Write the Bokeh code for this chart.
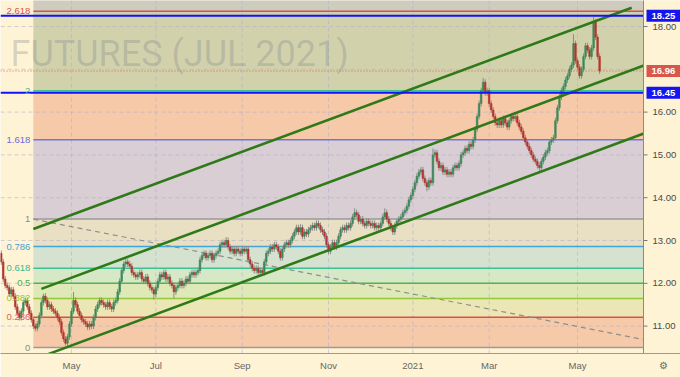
import numpy as np
import pandas as pd
from bokeh.plotting import figure
from bokeh.models import Range1d, FixedTicker
from bokeh.core.properties import value
from bokeh.embed import file_html
from bokeh.resources import INLINE

# ---------------- data ----------------
start_date = "2020-03-12"
exchange_holidays = ["2020-04-10", "2020-05-25", "2020-07-03", "2020-09-07", "2020-11-26",
                     "2020-12-25", "2021-01-01", "2021-01-18", "2021-02-15", "2021-04-02",
                     "2021-05-31", "2021-07-05"]

first_open = 12.70
closes = [
    12.50, 12.10, 11.95, 11.90, 11.75, 11.85, 11.70, 11.45, 11.30, 11.20,
    11.35, 11.55, 11.60, 11.45, 11.30, 11.15, 11.00, 10.95, 11.05, 11.25,
    11.55, 11.70, 11.60, 11.45, 11.50, 11.40, 11.35, 11.30, 11.20, 11.10,
    10.85, 10.70, 10.60, 10.75, 11.05, 11.35, 11.60, 11.50, 11.35, 11.25,
    11.15, 11.10, 11.05, 10.98, 11.05, 11.00, 11.20, 11.40, 11.50, 11.60,
    11.55, 11.50, 11.45, 11.55, 11.45, 11.40, 11.55, 11.60, 11.80, 12.05,
    12.30, 12.45, 12.50, 12.45, 12.40, 12.25, 12.20, 12.15, 12.20, 12.25,
    12.10, 12.05, 12.15, 12.00, 11.90, 11.85, 11.75, 11.90, 12.05, 12.20,
    12.15, 12.25, 12.10, 12.15, 12.00, 11.95, 11.80, 11.90, 11.95, 12.05,
    11.95, 12.00, 12.10, 12.05, 12.20, 12.25, 12.20, 12.25, 12.30, 12.55,
    12.65, 12.70, 12.60, 12.65, 12.70, 12.55, 12.65, 12.70, 12.75, 12.90,
    12.95, 12.90, 13.00, 12.85, 12.75, 12.80, 12.70, 12.80, 12.75, 12.70,
    12.80, 12.75, 12.80, 12.55, 12.45, 12.35, 12.30, 12.35, 12.25, 12.30,
    12.25, 12.50, 12.70, 12.75, 12.85, 12.80, 12.90, 12.85, 12.75, 12.60,
    12.80, 12.90, 12.95, 12.90, 13.00, 13.10, 13.20, 13.30, 13.20, 13.30,
    13.10, 13.20, 13.15, 13.25, 13.30, 13.35, 13.30, 13.40, 13.35, 13.25,
    13.20, 13.10, 12.90, 12.75, 12.85, 12.95, 12.85, 12.95, 13.10, 13.25,
    13.30, 13.25, 13.35, 13.30, 13.40, 13.55, 13.65, 13.60, 13.45, 13.50,
    13.40, 13.35, 13.45, 13.40, 13.35, 13.40, 13.30, 13.35, 13.30, 13.40,
    13.55, 13.65, 13.50, 13.40, 13.30, 13.20, 13.35, 13.45, 13.50, 13.55,
    13.65, 13.70, 13.80, 13.95, 14.05, 14.20, 14.35, 14.50, 14.60, 14.65,
    14.45, 14.35, 14.25, 14.40, 14.35, 15.00, 15.05, 14.85, 14.70, 14.75,
    14.60, 14.65, 14.55, 14.60, 14.55, 14.70, 14.75, 14.70, 14.80, 15.00,
    15.05, 15.15, 15.10, 15.25, 15.20, 15.35, 15.60, 15.90, 16.20, 16.50,
    16.70, 16.45, 16.50, 16.20, 16.05, 15.90, 15.75, 15.70, 15.80, 15.70,
    15.85, 15.75, 15.65, 15.80, 15.90, 15.85, 15.90, 15.75, 15.65, 15.55,
    15.40, 15.30, 15.20, 15.10, 15.00, 14.90, 14.85, 14.75, 14.70, 14.85,
    14.95, 15.05, 15.10, 15.30, 15.35, 15.40, 15.80, 16.10, 16.35, 16.50,
    16.60, 16.75, 16.85, 17.00, 17.10, 17.60, 17.20, 17.05, 16.85, 17.00,
    17.30, 17.55, 17.45, 17.30, 17.50, 18.10, 17.75, 17.30, 16.96,
]
wick = 0.07
extreme_bars = [21, 32, 36, 62, 76, 86, 112, 149, 163, 176, 191, 209, 212, 215, 240, 268, 285, 295]
extreme_highs = [11.76, None, 11.80, 12.60, None, None, 13.08, 13.38, None, 13.75, 13.75, 14.72, None, 15.15, 16.80, None, 17.82, 18.22]
extreme_lows = [None, 10.55, None, None, 11.62, 11.65, None, None, 12.68, None, None, None, 14.15, None, None, 14.62, None, None]

time_tick_months = ["2020-05-01", "2020-07-01", "2020-09-01", "2020-11-01",
                    "2021-01-01", "2021-03-01", "2021-05-01"]
time_tick_labels = ["May", "Jul", "Sep", "Nov", "2021", "Mar", "May"]
price_ticks = [11, 12, 13, 14, 15, 16, 18]      # 17.00 is hidden behind the last-price tag
grid_prices = [11, 12, 13, 14, 15, 16, 17, 18]

fib_anchor_date = "2020-04-03"
fib_trend_end_date = "2021-07-19"
fib_price_0 = 10.5
fib_price_1 = 13.5
fib_levels = [0, 0.236, 0.382, 0.5, 0.618, 0.786, 1, 1.618, 2, 2.618]
fib_labels = ["0", "0.236", "0.382", "0.5", "0.618", "0.786", "1", "1.618", "2", "2.618"]
fib_line_colors = ["#9a9a9a", "#d8504a", "#93c83c", "#4cb84c", "#3cc096", "#41a6d6",
                   "#9a9a9a", "#7474dc", "#3cc08e", "#d8504a"]
fib_label_colors = ["#8a8a8a", "#e0605a", "#8cc63f", "#4caf50", "#35b88a", "#3fa3d5",
                    "#8a8a8a", "#6b6bdb", "#2fbf8f", "#d9534f"]
fib_band_colors = ["#f6caa8", "#ece6b5", "#dfe9b8", "#d7e8c6", "#d5e2cf", "#e9dfc2",
                   "#d8ced3", "#f6c9a9", "#d1d2ac", "#cdccbf"]

channel_start_dates = ["2020-04-03", "2020-04-09", "2020-04-15"]
channel_start_prices = [13.27, 11.87, 10.34]
channel_end_dates = ["2021-06-10", "2021-06-18", "2021-06-18"]
channel_end_prices = [18.44, 17.09, 15.50]

blue_levels = [18.25, 16.45]
last_price = 16.96
watermark = "FUTURES (JUL 2021)"

# ---------------- layout / style ----------------
W, H = 680, 377
AX_B = 24
PX_PER_BAR = 2.008
x0 = -0.36
x_view = (x0, x0 + W / PX_PER_BAR)
y_view = (10.36, 18.6075)
cream = "#fef4d5"
FONT = "Liberation Sans"


def bx(px):
    """bar coordinate of a horizontal pixel position of the canvas"""
    return x_view[0] + px / PX_PER_BAR


chart_right = bx(643)         # right edge of the price pane, price scale to its right

cal = pd.bdate_range(start=start_date, periods=345, freq="C", holidays=exchange_holidays)


def bar_of(d):
    return int(np.searchsorted(cal.values, np.datetime64(pd.Timestamp(d))))


n = len(closes)
xs = np.arange(n)
c = np.array(closes)
o = np.array([first_open] + closes[:-1])
hi = np.maximum(o, c) + wick
lo = np.minimum(o, c) - wick
for b, h_, l_ in zip(extreme_bars, extreme_highs, extreme_lows):
    if h_ is not None:
        hi[b] = h_
    if l_ is not None:
        lo[b] = l_
up = c >= o

p = figure(width=W, height=H, x_range=Range1d(*x_view), y_range=Range1d(*y_view),
           y_axis_location=None, output_backend="svg", toolbar_location=None,
           min_border_left=0, min_border_top=0, min_border_right=0, min_border_bottom=AX_B,
           background_fill_color=cream, border_fill_color=cream, outline_line_color=None)
p.grid.visible = False

# time axis (below)
tick_bars = [bar_of(m) for m in time_tick_months]
gear_bar = bx(663)
p.xaxis.ticker = FixedTicker(ticks=tick_bars + [gear_bar])
overrides = {b: lab for b, lab in zip(tick_bars, time_tick_labels)}
overrides[gear_bar] = "\u2699"
p.xaxis.major_label_overrides = overrides
p.xaxis.major_label_text_font = FONT
p.xaxis.major_label_text_font_size = "9.5px"
p.xaxis.major_label_text_color = "#666666"
p.xaxis.major_tick_out = 0
p.xaxis.major_tick_in = 0
p.xaxis.minor_tick_line_color = None
p.xaxis.axis_line_color = "#9a9a9a"
p.xaxis.major_label_standoff = 6

# fib bands
fa = bar_of(fib_anchor_date)
fib_prices = [fib_price_0 + lv * (fib_price_1 - fib_price_0) for lv in fib_levels]
band_tops = fib_prices[1:] + [y_view[1] + 1]
p.quad(left=fa, right=chart_right, bottom=fib_prices, top=band_tops,
       fill_color=fib_band_colors, line_color=None)

# grid
p.segment(x0=tick_bars, x1=tick_bars, y0=y_view[0], y1=y_view[1],
          line_color="#b4afcd", line_alpha=0.6, line_dash="4 3", line_width=1)
p.segment(x0=x_view[0], x1=chart_right, y0=grid_prices, y1=grid_prices,
          line_color="#b4afcd", line_alpha=0.6, line_dash="4 3", line_width=1)

# watermark
p.text(x=[bx(10)], y=[17.35], text=[watermark],
       text_font=value("Roboto"), text_font_size="36px", text_color="#787b86",
       text_alpha=0.28, text_baseline="alphabetic", text_align="left")

# fib lines
p.segment(x0=fa, x1=chart_right, y0=fib_prices, y1=fib_prices,
          line_color=fib_line_colors, line_width=1.5)

# fib trend line
p.line([fa, bar_of(fib_trend_end_date)], [fib_price_1, fib_price_0],
       line_color="#8e8e8e", line_dash="5 4", line_width=1.2)

# candles
p.segment(x0=xs, x1=xs, y0=lo, y1=hi, line_color="#8c8c8c", line_width=1)
body_col = np.where(up, "#3a8a5a", "#b3352d")
p.vbar(x=xs, width=0.8, bottom=np.minimum(o, c), top=np.maximum(o, c),
       fill_color=body_col, line_color=body_col, line_width=0.6)

# last price dotted line
p.segment(x0=x_view[0], x1=chart_right, y0=last_price, y1=last_price,
          line_color="#e0604a", line_dash="1 2", line_width=1)

# channel lines
p.segment(x0=[bar_of(d) for d in channel_start_dates], y0=channel_start_prices,
          x1=[bar_of(d) for d in channel_end_dates], y1=channel_end_prices,
          line_color="#2f7a18", line_width=2.6)

# blue levels
p.segment(x0=x_view[0], x1=chart_right, y0=blue_levels, y1=blue_levels,
          line_color="#1212ff", line_width=2)

# fib labels
p.text(x=fa, y=fib_prices, text=fib_labels, text_color=fib_label_colors,
       x_offset=-3, text_align="right", text_baseline="middle",
       text_font=value(FONT), text_font_size="9.5px")

# ---- price scale (right) ----
p.quad(left=chart_right, right=x_view[1] + 1, bottom=y_view[0] - 1, top=y_view[1] + 1,
       fill_color=cream, line_color=None)
p.segment(x0=chart_right, x1=chart_right, y0=y_view[0] - 1, y1=y_view[1] + 1,
          line_color="#8a8a8a", line_width=1)
p.segment(x0=chart_right, x1=bx(647), y0=price_ticks, y1=price_ticks,
          line_color="#777777", line_width=1)
p.text(x=bx(652), y=price_ticks, text=[f"{t:.2f}" for t in price_ticks],
       text_color="#4a4a4a", text_align="left", text_baseline="middle",
       text_font=value(FONT), text_font_size="9.5px")

tag_values = [blue_levels[0], last_price, blue_levels[1]]
tag_colors = ["#1515f0", "#d9574a", "#1515f0"]
p.rect(x=bx(663), y=tag_values, width=34, height=12, width_units="screen",
       height_units="screen", fill_color=tag_colors, line_color=None)
p.text(x=bx(651), y=tag_values, text=[f"{v:.2f}" for v in tag_values],
       text_color="white", text_font_style="bold", text_align="left",
       text_baseline="middle", text_font=value(FONT), text_font_size="9.5px")

open("out.html", "w").write(file_html(p, INLINE))
